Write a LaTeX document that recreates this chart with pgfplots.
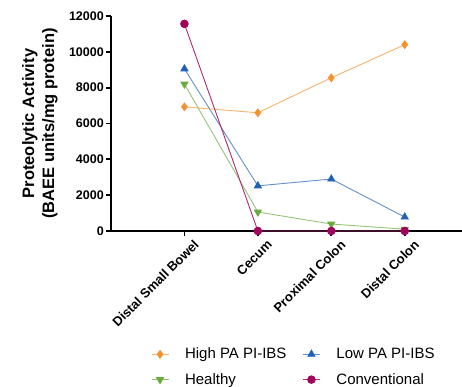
\documentclass[border=0pt]{standalone}
\usepackage{fontspec}
\setmainfont{Liberation Sans}
\usepackage{pgfplots}
\pgfplotsset{compat=1.18}
\definecolor{corange}{HTML}{F5922F}
\definecolor{cblue}{HTML}{1F62B5}
\definecolor{cgreen}{HTML}{6BAA3C}
\definecolor{cmaroon}{HTML}{A1045A}
\begin{document}
\begin{tikzpicture}[x=1pt,y=1pt]
\useasboundingbox (-111,-156) rectangle (351,231);
\begin{axis}[
  at={(0,0)}, anchor=origin,
  scale only axis, width=351pt, height=215pt,
  xmin=0, xmax=4.78, ymin=0, ymax=12000,
  axis x line=bottom, axis y line=left,
  axis line style={line width=1.8pt, -},
  xtick={1,2,3,4},
  xticklabels={Distal Small Bowel, Cecum, Proximal Colon, Distal Colon},
  xticklabel style={rotate=45, anchor=north east, font=\bfseries\fontsize{13}{15}\selectfont, inner sep=1pt, yshift=-7pt, xshift=5pt},
  ytick={0,2000,4000,6000,8000,10000,12000},
  yticklabel style={font=\bfseries\fontsize{12.5}{14}\selectfont, inner sep=2pt},
  /pgf/number format/assume math mode=true,
  /pgf/number format/set thousands separator={},
  scaled y ticks=false,
  tick style={line width=1.8pt, black},
  tick align=outside, major tick length=5pt,
  ylabel={Proteolytic Activity\\(BAEE units/mg protein)},
  ylabel style={align=center, font=\bfseries\fontsize{16.5}{20}\selectfont, yshift=6pt},
  legend columns=2,
  legend style={at={(0.105,-0.525)}, anchor=north west, draw=none, fill=none,
    font=\fontsize{15}{17}\selectfont, column sep=14pt, row sep=9pt},
  legend cell align=left,
  clip=false,
]
\addplot[corange!70, line width=0.9pt, mark=diamond*, mark size=3.8pt, mark options={fill=corange, draw=corange}]
  coordinates {(1,6930) (2,6600) (3,8550) (4,10400)};
\addlegendentry{High PA PI-IBS}
\addplot[cblue!70, line width=0.9pt, mark=triangle*, mark size=4pt, mark options={fill=cblue, draw=cblue}]
  coordinates {(1,9050) (2,2520) (3,2900) (4,780)};
\addlegendentry{Low PA PI-IBS}
\addplot[cgreen!70, line width=0.9pt, mark=triangle*, mark size=4pt, mark options={fill=cgreen, draw=cgreen, rotate=180}]
  coordinates {(1,8200) (2,1060) (3,390) (4,100)};
\addlegendentry{Healthy}
\addplot[cmaroon!85, line width=0.9pt, mark=*, mark size=3.8pt, mark options={fill=cmaroon, draw=cmaroon}]
  coordinates {(1,11560) (2,0) (3,0) (4,0)};
\addlegendentry{Conventional}
\end{axis}
\end{tikzpicture}
\end{document}
